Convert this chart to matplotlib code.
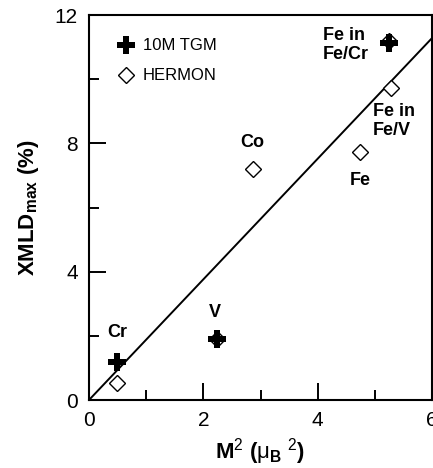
import matplotlib
matplotlib.use("Agg")
import matplotlib.pyplot as plt
import numpy as np

plt.rcParams['font.family'] = ['Liberation Sans', 'DejaVu Sans']
plt.rcParams['mathtext.fontset'] = 'custom'
plt.rcParams['mathtext.rm'] = 'Liberation Sans'
plt.rcParams['mathtext.it'] = 'Liberation Sans'
plt.rcParams['mathtext.bf'] = 'Liberation Sans:bold'

# Data
tgm_x = [0.49, 2.24, 5.24]
tgm_y = [1.18, 1.90, 11.12]
hermon_x = [0.49, 2.24, 2.87, 4.74, 5.28, 5.25]
hermon_y = [0.53, 1.90, 7.20, 7.73, 9.72, 11.20]
fit_x = [0, 6]
fit_y = [0, 11.28]
labels = ["Cr", "V", "Co", "Fe", "Fe in\nFe/V", "Fe in\nFe/Cr"]
label_x = [0.49, 2.20, 2.85, 4.74, 4.97, 4.09]
label_y = [2.09, 2.74, 8.04, 6.85, 8.69, 11.06]
label_ha = ['center', 'center', 'center', 'center', 'left', 'left']
xticks = [0, 2, 4, 6]
yticks = [0, 4, 8, 12]

fig = plt.figure(figsize=(4.33, 4.68), dpi=100)
ax = fig.add_axes([89/433, 68/468, 343/433, 385/468])

ax.plot(fit_x, fit_y, color='black', lw=1.4, zorder=1)
ax.plot(hermon_x, hermon_y, linestyle='none', marker='D', markersize=8.5,
        markerfacecolor='white', markeredgecolor='black', markeredgewidth=1.0,
        zorder=2, label='HERMON')
ax.plot(tgm_x, tgm_y, linestyle='none', marker='P', markersize=12.5,
        color='black', markeredgewidth=0, zorder=3, label='10M TGM')

for t, x, y, ha in zip(labels, label_x, label_y, label_ha):
    ax.text(x, y, t, fontsize=13, fontweight='bold', ha=ha, va='center',
            linespacing=1.2, zorder=4)

ax.set_xlim(0, 6)
ax.set_ylim(0, 12)
ax.set_xticks(xticks)
ax.set_yticks(yticks)
ax.set_xticks([1, 3, 5], minor=True)
ax.set_yticks([2, 6, 10], minor=True)
ax.tick_params(which='major', direction='in', length=12, width=1.4, labelsize=15)
ax.tick_params(axis='x', which='major', pad=8)
ax.tick_params(axis='y', which='major', pad=8)
ax.tick_params(which='minor', direction='in', length=7, width=1.4)
ax.tick_params(top=False, right=False)
for s in ax.spines.values():
    s.set_linewidth(1.5)

ax.set_xlabel(r'$\mathbf{M}^{2}$ ($\mu_{\mathbf{B}}$ $^{2}$)', fontsize=16, fontweight='bold', labelpad=4)
ax.set_ylabel(r'$\mathbf{XMLD}_{\mathbf{max}}$ (%)', fontsize=16, fontweight='bold', labelpad=10)

h, l = ax.get_legend_handles_labels()
ax.legend(h[::-1], l[::-1], loc='upper left', frameon=False, fontsize=12,
          bbox_to_anchor=(0.0845, 0.939), borderaxespad=0, borderpad=0,
          handletextpad=0.5, handlelength=1.0, labelspacing=0.9)

fig.savefig('out.png', dpi=100)
